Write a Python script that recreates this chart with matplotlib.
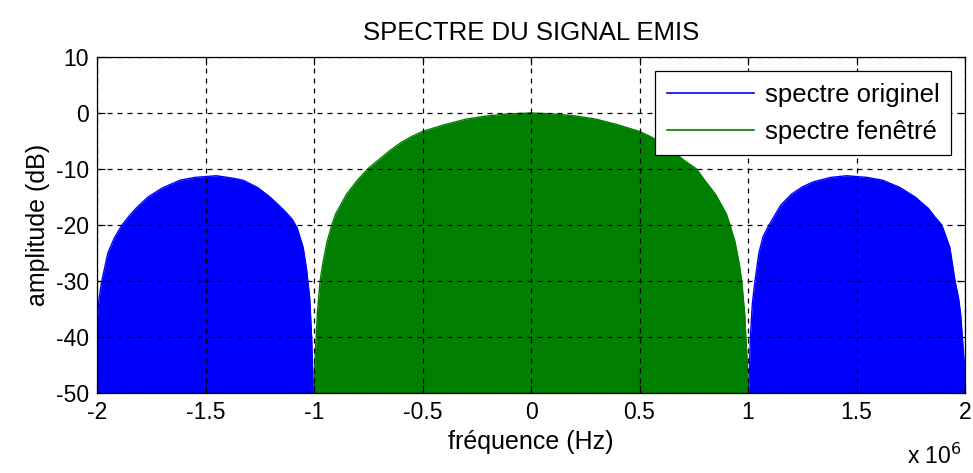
import matplotlib
matplotlib.use('Agg')
import numpy as np
import matplotlib.pyplot as plt

# envelope of the spectra (freq in units of 1e6 Hz, amplitude in dB)
freq_left = [-2.0, -1.995, -1.99, -1.978, -1.95, -1.92, -1.885, -1.85, -1.82, -1.765, -1.70,
             -1.618, -1.55, -1.45, -1.38, -1.327, -1.26, -1.203, -1.14, -1.10, -1.078,
             -1.05, -1.034, -1.02, -1.011, -1.003]
amp_left = [-38, -35, -33, -30, -25, -22.3, -20, -18.3, -17, -15, -13.4,
            -12, -11.5, -11.2, -11.6, -12, -13.3, -15, -17.3, -19, -20.5,
            -24, -28, -33, -40, -50]

freq_right = [1.003, 1.011, 1.02, 1.032, 1.05, 1.07, 1.097, 1.15, 1.2, 1.25, 1.3, 1.38, 1.455,
              1.55, 1.62, 1.7, 1.77, 1.83, 1.86, 1.893, 1.93, 1.954, 1.97, 1.98, 1.995, 2.0]
amp_right = [-50, -40, -34, -30, -25, -22, -20, -16.5, -14.5, -13.2, -12.3, -11.5, -11.2,
             -11.5, -12, -13.3, -15, -17, -18.5, -20, -24, -30, -33, -36, -44, -46]

freq_win = [-1.0, -0.997, -0.99, -0.985, -0.972, -0.96, -0.94, -0.918, -0.9, -0.85,
            -0.8, -0.75, -0.7, -0.65, -0.6, -0.55, -0.5, -0.4, -0.3, -0.2, -0.1,
            0.0, 0.1, 0.2, 0.3, 0.4, 0.5, 0.55, 0.6, 0.65, 0.7, 0.763,
            0.8, 0.85, 0.9, 0.917, 0.94, 0.96, 0.971, 0.985, 0.99, 0.997, 1.0]
amp_win = [-50, -45, -40, -36, -30, -27, -23, -20, -18, -14.5,
           -12, -9.9, -8.3, -6.7, -5.3, -4.2, -3.3, -2.1, -1.1, -0.5, -0.15,
           0, -0.15, -0.5, -1.1, -2.1, -3.3, -4.2, -5.3, -6.7, -8.3, -10,
           -12, -14.5, -18, -20, -23, -27, -30, -36, -40, -45, -50]

xticks = [-2, -1.5, -1, -0.5, 0, 0.5, 1, 1.5, 2]
xticklabels = ['-2', '-1.5', '-1', '-0.5', '0', '0.5', '1', '1.5', '2']
yticks = [-50, -40, -30, -20, -10, 0, 10]

plt.rcParams['font.family'] = ['Liberation Sans', 'DejaVu Sans']
plt.rcParams['axes.unicode_minus'] = False

fig = plt.figure(figsize=(9.73, 4.73), dpi=100)
ax = fig.add_axes([0.0997, 0.169, 0.8921, 0.7105])

blue = '#0000ff'
green = '#007f00'

# original spectrum (outer lobes), windowed spectrum on top
for f, a in [(freq_left, amp_left), (freq_right, amp_right)]:
    f = np.array(f) * 1e6
    ax.fill_between(f, a, -50, color=blue, lw=0)
    ax.plot(f, a, color=blue, lw=1)
fw = np.array(freq_win) * 1e6
ax.fill_between(fw, amp_win, -50, color=green, lw=0)
ax.plot(fw, amp_win, color=green, lw=1)

ax.set_xlim(-2e6, 2e6)
ax.set_ylim(-50, 10)
ax.set_xticks(np.array(xticks) * 1e6)
ax.set_xticklabels(xticklabels)
ax.set_yticks(yticks)
ax.tick_params(direction='in', top=True, right=True, length=6, width=0.8,
               labelsize=16.5, pad=6)
ax.grid(True, color='black', linestyle=(0, (4, 4)), linewidth=0.9)
ax.set_axisbelow(False)
for s in ax.spines.values():
    s.set_linewidth(0.9)

ax.set_title('SPECTRE DU SIGNAL EMIS', fontsize=18.5, pad=12)
ax.set_xlabel('fréquence (Hz)', fontsize=18, labelpad=4)
ax.set_ylabel('amplitude (dB)', fontsize=18, labelpad=4)
fig.text(0.932, 0.008, 'x 10$^6$', fontsize=16.5, ha='left', va='bottom')

h1, = ax.plot([], [], color=blue, lw=1.2, label='spectre originel')
h2, = ax.plot([], [], color=green, lw=1.2, label='spectre fenêtré')
leg = ax.legend(handles=[h1, h2], loc='upper right', fontsize=18.5, fancybox=False,
                framealpha=1, edgecolor='black', borderaxespad=0.55, handlelength=3.4,
                labelspacing=0.5, borderpad=0.45, handletextpad=0.4)
leg.get_frame().set_linewidth(0.9)

fig.savefig('out.png', dpi=100)
